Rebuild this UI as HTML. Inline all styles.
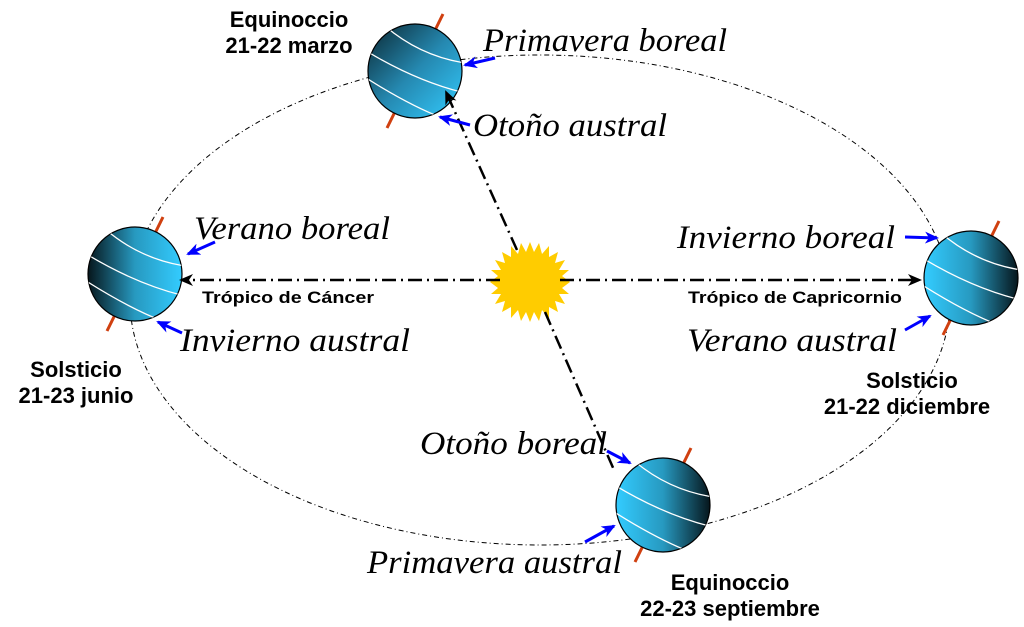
<!DOCTYPE html>
<html><head><meta charset="utf-8"><style>
body{margin:0;background:#fff}
svg{display:block}
.it{font-family:"Liberation Serif",serif;font-style:italic;font-size:33px;fill:#000}
.b{font-family:"Liberation Sans",sans-serif;font-weight:bold;font-size:22px;fill:#000}
.s{font-family:"Liberation Sans",sans-serif;font-weight:bold;font-size:17px;fill:#000}
</style></head><body>
<svg width="1024" height="627" viewBox="0 0 1024 627" xmlns="http://www.w3.org/2000/svg">
<defs>
<linearGradient id="gR" x1="0" y1="0" x2="1" y2="0"><stop offset="0" stop-color="#33ccff"/><stop offset="0.5" stop-color="#2799c0"/><stop offset="1" stop-color="#06161c"/></linearGradient>
<linearGradient id="gL" x1="1" y1="0" x2="0" y2="0"><stop offset="0" stop-color="#33ccff"/><stop offset="0.5" stop-color="#2799c0"/><stop offset="1" stop-color="#06161c"/></linearGradient>
<linearGradient id="gT" x1="1" y1="1" x2="0" y2="0"><stop offset="0" stop-color="#33ccff"/><stop offset="0.5" stop-color="#2588b0"/><stop offset="1" stop-color="#0a2630"/></linearGradient>
<clipPath id="c"><circle cx="0" cy="0" r="47"/></clipPath>
<g id="lines" clip-path="url(#c)" fill="none" stroke="#fff" stroke-width="1.3">
<path d="M-30,-45 Q5,-15 50,-8"/><path d="M-52,-22 Q0,10 50,22"/><path d="M-52,5 Q-5,35 30,48"/>
</g>
<marker id="ah" markerWidth="14" markerHeight="12" refX="12" refY="6" orient="auto" markerUnits="userSpaceOnUse"><path d="M0,0 L14,6 L0,12 L4,6z" fill="#000"/></marker>
<marker id="bh" markerWidth="14" markerHeight="12" refX="12" refY="6" orient="auto" markerUnits="userSpaceOnUse"><path d="M0,0 L14,6 L0,12 L4,6z" fill="#00f"/></marker>
</defs>
<ellipse cx="540" cy="300" rx="410" ry="245" fill="none" stroke="#000" stroke-width="1" stroke-dasharray="5,3,1,3"/>
<g transform="translate(530,282)">
<polygon fill="#ffcc00" points="40,0 32,6 39,12 29,12 35,22 25,19 28,30 19,25 19,36 12,28 9,39 4,30 0,40 -4,30 -9,39 -12,28 -19,36 -19,25 -28,30 -25,19 -35,22 -29,12 -39,12 -32,6 -40,0 -32,-6 -39,-12 -29,-12 -35,-22 -25,-19 -28,-30 -19,-25 -19,-36 -12,-28 -9,-39 -4,-30 0,-40 4,-30 9,-39 12,-28 19,-36 19,-25 28,-30 25,-19 35,-22 29,-12 39,-12 32,-6"/>
</g>
<!-- globes -->
<g transform="translate(415,71)"><line x1="-28" y1="57" x2="28" y2="-57" stroke="#d04010" stroke-width="3"/><circle r="47" fill="url(#gT)" stroke="#000" stroke-width="1.2"/><use href="#lines"/></g>
<g transform="translate(135,274)"><line x1="-28" y1="57" x2="28" y2="-57" stroke="#d04010" stroke-width="3"/><circle r="47" fill="url(#gL)" stroke="#000" stroke-width="1.2"/><use href="#lines"/></g>
<g transform="translate(971,278)"><line x1="-28" y1="57" x2="28" y2="-57" stroke="#d04010" stroke-width="3"/><circle r="47" fill="url(#gR)" stroke="#000" stroke-width="1.2"/><use href="#lines"/></g>
<g transform="translate(663,505)"><line x1="-28" y1="57" x2="28" y2="-57" stroke="#d04010" stroke-width="3"/><circle r="47" fill="url(#gR)" stroke="#000" stroke-width="1.2"/><use href="#lines"/></g>
<line x1="500" y1="280" x2="181" y2="280" stroke="#000" stroke-width="2.5" stroke-dasharray="14,5,2,5" marker-end="url(#ah)"/>
<line x1="560" y1="280" x2="920" y2="280" stroke="#000" stroke-width="2.5" stroke-dasharray="14,5,2,5" marker-end="url(#ah)"/>
<line x1="517" y1="250" x2="446" y2="92" stroke="#000" stroke-width="2.5" stroke-dasharray="14,5,2,5" marker-end="url(#ah)"/>
<line x1="545" y1="312" x2="614" y2="470" stroke="#000" stroke-width="2.5" stroke-dasharray="14,5,2,5"/>
<!-- blue arrows -->
<g stroke="#00f" stroke-width="3" marker-end="url(#bh)">
<line x1="495" y1="58" x2="465" y2="65"/>
<line x1="470" y1="125" x2="440" y2="117"/>
<line x1="215" y1="242" x2="188" y2="254"/>
<line x1="182" y1="333" x2="158" y2="322"/>
<line x1="905" y1="237" x2="937" y2="238"/>
<line x1="905" y1="330" x2="930" y2="316"/>
<line x1="607" y1="451" x2="630" y2="463"/>
<line x1="585" y1="542" x2="614" y2="526"/>
</g>
<!-- labels -->
<text class="it" x="483" y="51" textLength="244" lengthAdjust="spacingAndGlyphs">Primavera boreal</text>
<text class="it" x="473" y="136" textLength="194" lengthAdjust="spacingAndGlyphs">Otoño austral</text>
<text class="it" x="194" y="239" textLength="196" lengthAdjust="spacingAndGlyphs">Verano boreal</text>
<text class="it" x="180" y="351" textLength="230" lengthAdjust="spacingAndGlyphs">Invierno austral</text>
<text class="it" x="677" y="248" textLength="218" lengthAdjust="spacingAndGlyphs">Invierno boreal</text>
<text class="it" x="687" y="351" textLength="210" lengthAdjust="spacingAndGlyphs">Verano austral</text>
<text class="it" x="420" y="454" textLength="187" lengthAdjust="spacingAndGlyphs">Otoño boreal</text>
<text class="it" x="367" y="573" textLength="255" lengthAdjust="spacingAndGlyphs">Primavera austral</text>
<text class="b" x="289" y="27" text-anchor="middle">Equinoccio</text>
<text class="b" x="289" y="53" text-anchor="middle">21-22 marzo</text>
<text class="b" x="76" y="377" text-anchor="middle">Solsticio</text>
<text class="b" x="76" y="403" text-anchor="middle">21-23 junio</text>
<text class="b" x="912" y="388" text-anchor="middle">Solsticio</text>
<text class="b" x="907" y="414" text-anchor="middle">21-22 diciembre</text>
<text class="b" x="730" y="590" text-anchor="middle">Equinoccio</text>
<text class="b" x="730" y="616" text-anchor="middle">22-23 septiembre</text>
<text class="s" x="202" y="303" textLength="172" lengthAdjust="spacingAndGlyphs">Trópico de Cáncer</text>
<text class="s" x="688" y="303" textLength="214" lengthAdjust="spacingAndGlyphs">Trópico de Capricornio</text>
</svg>
</body></html>
